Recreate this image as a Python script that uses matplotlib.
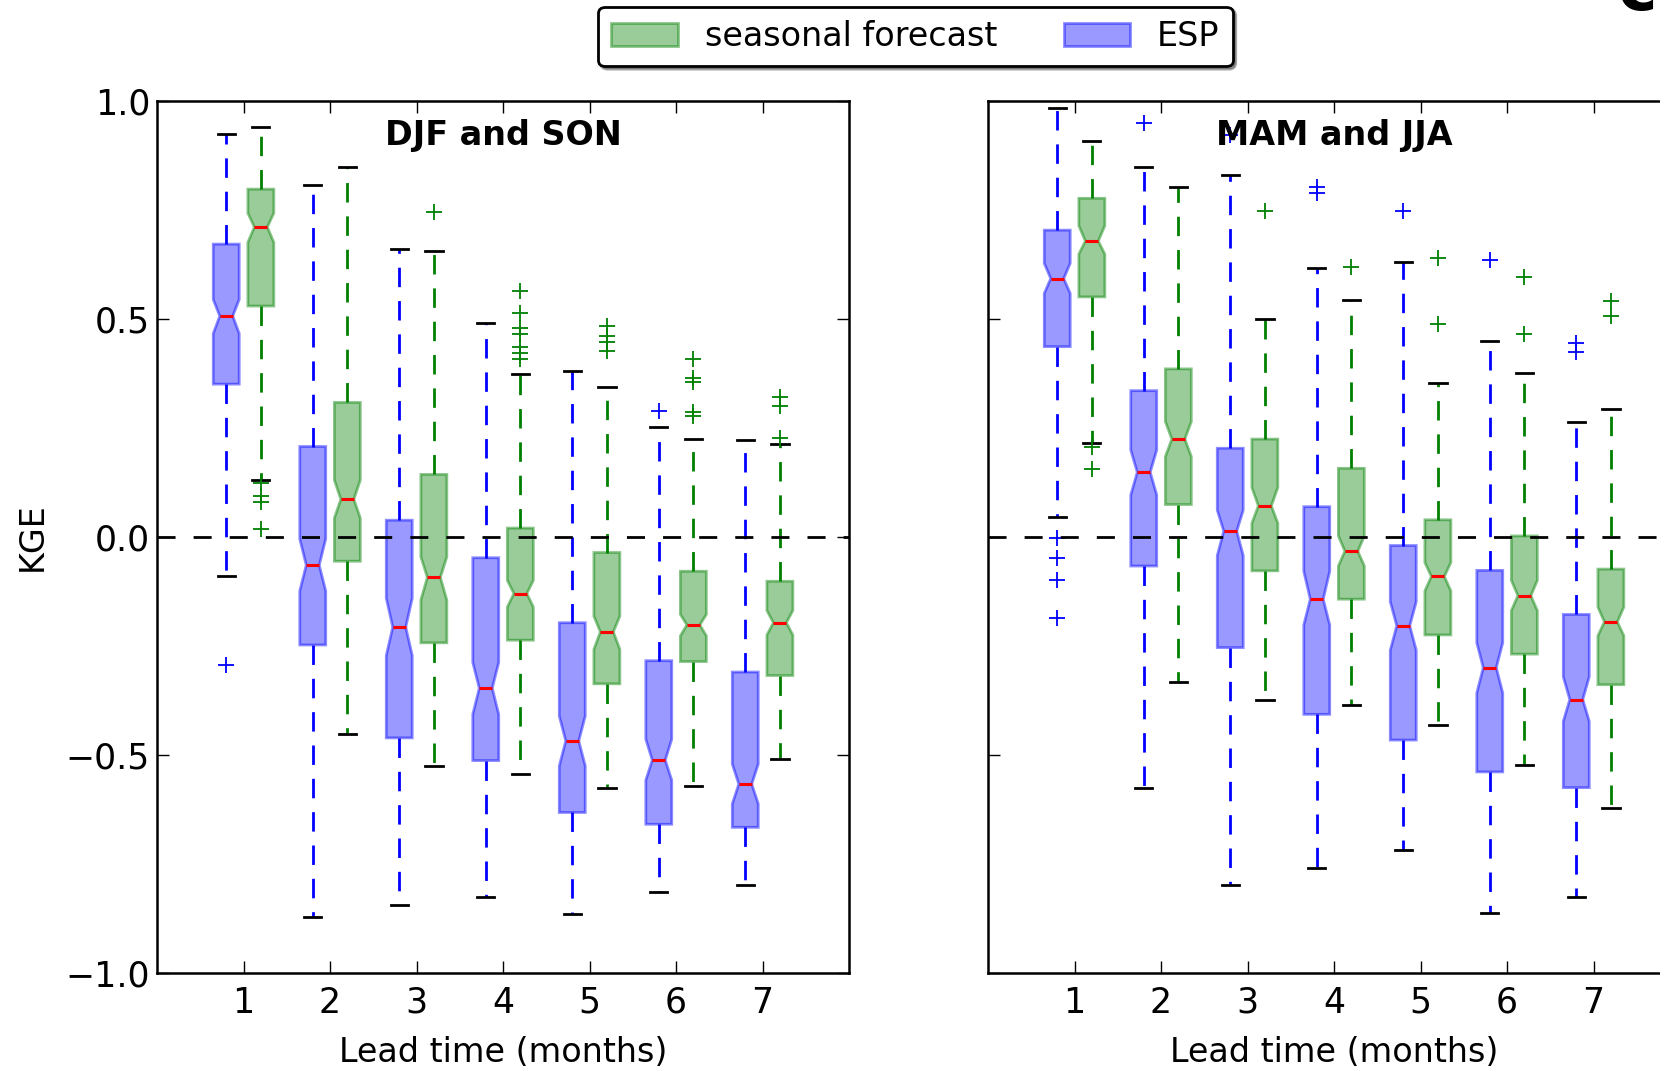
import matplotlib
matplotlib.use("Agg")
import matplotlib.pyplot as plt
from matplotlib.patches import Patch

plt.rcParams["font.family"] = ["DejaVu Sans"]
plt.rcParams["font.size"] = 24

leads = [1, 2, 3, 4, 5, 6, 7]

# DJF and SON -- ESP
djf_esp_q1 = [0.350, -0.248, -0.461, -0.513, -0.632, -0.659, -0.666]
djf_esp_med = [0.506, -0.065, -0.207, -0.347, -0.468, -0.512, -0.567]
djf_esp_q3 = [0.671, 0.207, 0.038, -0.048, -0.197, -0.284, -0.310]
djf_esp_cilo = [0.466, -0.124, -0.272, -0.407, -0.525, -0.558, -0.612]
djf_esp_cihi = [0.544, -0.005, -0.141, -0.288, -0.411, -0.464, -0.521]
djf_esp_lo = [-0.089, -0.871, -0.843, -0.825, -0.864, -0.815, -0.799]
djf_esp_hi = [0.923, 0.806, 0.660, 0.490, 0.379, 0.251, 0.222]
djf_esp_fliers = [[-0.295], [], [], [], [], [0.288], []]

# DJF and SON -- seasonal forecast
djf_sf_q1 = [0.529, -0.056, -0.243, -0.237, -0.337, -0.286, -0.318]
djf_sf_med = [0.710, 0.086, -0.093, -0.130, -0.218, -0.202, -0.197]
djf_sf_q3 = [0.797, 0.308, 0.143, 0.020, -0.036, -0.079, -0.102]
djf_sf_cilo = [0.675, 0.043, -0.145, -0.161, -0.258, -0.227, -0.225]
djf_sf_cihi = [0.742, 0.130, -0.046, -0.100, -0.182, -0.178, -0.169]
djf_sf_lo = [0.130, -0.452, -0.526, -0.544, -0.576, -0.572, -0.510]
djf_sf_hi = [0.939, 0.847, 0.656, 0.373, 0.343, 0.224, 0.213]
djf_sf_fliers = [[0.123, 0.094, 0.080, 0.019], [], [0.745],
                 [0.564, 0.512, 0.478, 0.465, 0.434, 0.422, 0.407],
                 [0.483, 0.460, 0.447, 0.426],
                 [0.407, 0.363, 0.354, 0.287, 0.277],
                 [0.320, 0.301, 0.226]]

# MAM and JJA -- ESP
mam_esp_q1 = [0.436, -0.067, -0.254, -0.407, -0.466, -0.539, -0.575]
mam_esp_med = [0.592, 0.148, 0.013, -0.143, -0.204, -0.300, -0.373]
mam_esp_q3 = [0.703, 0.335, 0.203, 0.069, -0.020, -0.077, -0.178]
mam_esp_cilo = [0.558, 0.096, -0.043, -0.202, -0.260, -0.358, -0.423]
mam_esp_cihi = [0.627, 0.199, 0.061, -0.079, -0.149, -0.243, -0.321]
mam_esp_lo = [0.045, -0.575, -0.799, -0.759, -0.717, -0.862, -0.826]
mam_esp_hi = [0.983, 0.847, 0.829, 0.617, 0.630, 0.449, 0.264]
mam_esp_fliers = [[-0.003, -0.049, -0.099, -0.187], [0.948], [0.921],
                  [0.801, 0.789], [0.748], [0.635], [0.444, 0.424]]

# MAM and JJA -- seasonal forecast
mam_sf_q1 = [0.550, 0.074, -0.078, -0.143, -0.225, -0.269, -0.339]
mam_sf_med = [0.678, 0.224, 0.071, -0.033, -0.091, -0.135, -0.195]
mam_sf_q3 = [0.776, 0.385, 0.224, 0.157, 0.039, 0.002, -0.074]
mam_sf_cilo = [0.648, 0.184, 0.031, -0.067, -0.124, -0.169, -0.227]
mam_sf_cihi = [0.713, 0.264, 0.113, 0.002, -0.059, -0.100, -0.161]
mam_sf_lo = [0.214, -0.334, -0.374, -0.385, -0.432, -0.523, -0.622]
mam_sf_hi = [0.908, 0.801, 0.499, 0.542, 0.353, 0.375, 0.293]
mam_sf_fliers = [[0.207, 0.155], [], [0.748], [0.619], [0.638, 0.487],
                 [0.596, 0.464], [0.541, 0.506]]

ESP_COLOR = (0, 0, 1)
SF_COLOR = (0, 0.5, 0)


def make_stats(q1, med, q3, cilo, cihi, lo, hi, fliers):
    stats = []
    for i in range(len(q1)):
        stats.append(dict(q1=q1[i], med=med[i], q3=q3[i], cilo=cilo[i],
                          cihi=cihi[i], whislo=lo[i], whishi=hi[i],
                          fliers=fliers[i]))
    return stats


def draw_boxes(ax, stats, positions, color):
    ax.bxp(
        stats,
        positions=positions,
        widths=0.3,
        capwidths=0.2,
        shownotches=True,
        patch_artist=True,
        manage_ticks=False,
        boxprops=dict(facecolor=color + (0.4,), edgecolor=color + (0.45,),
                      linewidth=2),
        whiskerprops=dict(color=color, linestyle=(0, (7, 5)), linewidth=2),
        capprops=dict(color="black", linewidth=2),
        medianprops=dict(color="red", linewidth=2.2),
        flierprops=dict(marker="+", markeredgecolor=color, markersize=12,
                        markeredgewidth=1.3, linestyle="none"),
    )


def style_axes(ax, title, show_ylabels):
    ax.axhline(0, color="black", linestyle=(0, (6.5, 6.5)), linewidth=2,
               zorder=5)
    ax.set_xlim(0, 8)
    ax.set_ylim(-1, 1)
    ax.set_xticks(leads)
    ax.set_yticks([-1.0, -0.5, 0.0, 0.5, 1.0])
    ax.tick_params(direction="in", length=8.5, width=1, top=True,
                   right=True, labelsize=25)
    ax.tick_params(axis="x", pad=9)
    ax.tick_params(axis="y", pad=5)
    for spine in ax.spines.values():
        spine.set_linewidth(1.8)
    if not show_ylabels:
        ax.set_yticklabels([])
    else:
        ax.set_ylabel("KGE", labelpad=12)
    ax.set_xlabel("Lead time (months)", labelpad=12)
    ax.text(0.5, 0.96, title, transform=ax.transAxes, ha="center",
            va="center", fontweight="bold", zorder=6)


fig = plt.figure(figsize=(16.6, 10.69), dpi=100)
ax1 = fig.add_axes([0.0946, 0.0898, 0.4169, 0.8161])
ax2 = fig.add_axes([0.5952, 0.0898, 0.4169, 0.8161])

esp_pos = [x - 0.2 for x in leads]
sf_pos = [x + 0.2 for x in leads]

draw_boxes(ax1, make_stats(djf_esp_q1, djf_esp_med, djf_esp_q3, djf_esp_cilo,
                           djf_esp_cihi, djf_esp_lo, djf_esp_hi,
                           djf_esp_fliers), esp_pos, ESP_COLOR)
draw_boxes(ax1, make_stats(djf_sf_q1, djf_sf_med, djf_sf_q3, djf_sf_cilo,
                           djf_sf_cihi, djf_sf_lo, djf_sf_hi,
                           djf_sf_fliers), sf_pos, SF_COLOR)
draw_boxes(ax2, make_stats(mam_esp_q1, mam_esp_med, mam_esp_q3, mam_esp_cilo,
                           mam_esp_cihi, mam_esp_lo, mam_esp_hi,
                           mam_esp_fliers), esp_pos, ESP_COLOR)
draw_boxes(ax2, make_stats(mam_sf_q1, mam_sf_med, mam_sf_q3, mam_sf_cilo,
                           mam_sf_cihi, mam_sf_lo, mam_sf_hi,
                           mam_sf_fliers), sf_pos, SF_COLOR)

style_axes(ax1, "DJF and SON", True)
style_axes(ax2, "MAM and JJA", False)

handles = [
    Patch(facecolor=SF_COLOR + (0.4,), edgecolor=SF_COLOR + (0.45,),
          linewidth=2, label="seasonal forecast"),
    Patch(facecolor=ESP_COLOR + (0.4,), edgecolor=ESP_COLOR + (0.45,),
          linewidth=2, label="ESP"),
]
leg = fig.legend(handles=handles, loc="center", ncol=2,
                 bbox_to_anchor=(915.5 / 1660, 1 - 36.5 / 1069),
                 fancybox=True, shadow=True, framealpha=1,
                 handlelength=2.0, handletextpad=0.8, columnspacing=2.0,
                 borderpad=0.4)
leg.get_frame().set_edgecolor("black")
leg.get_frame().set_linewidth(2)

# cut-off panel letter at the top right corner
fig.text(1617 / 1660, 1 - 10 / 1069, "c", fontsize=48, fontweight="bold",
         va="baseline", ha="left")

fig.savefig("out.png", dpi=100)
plt.close(fig)
